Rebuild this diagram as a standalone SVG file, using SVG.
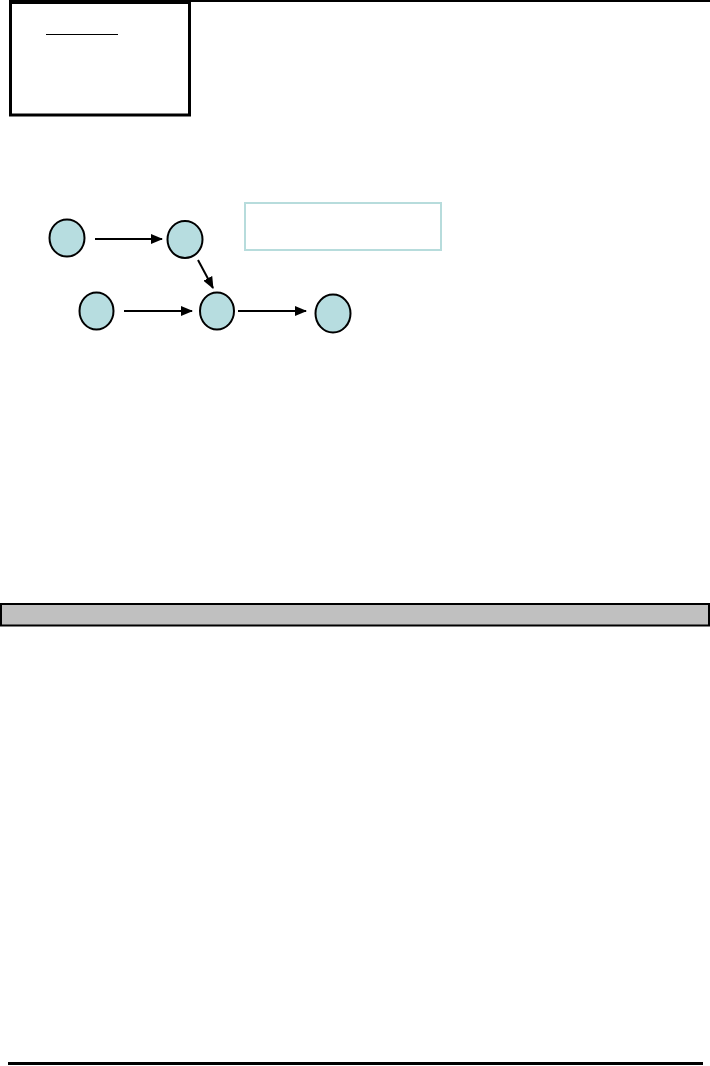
<svg xmlns="http://www.w3.org/2000/svg" width="710" height="1066" viewBox="0 0 710 1066">
<style>
.node{fill:#b7dde0;stroke:#000;stroke-width:2}
.conn{stroke:#000;stroke-width:2;fill:none}
</style>
<defs>
<marker id="ah" markerWidth="12" markerHeight="10" refX="11" refY="5" orient="auto" markerUnits="userSpaceOnUse">
<path d="M0,0 L12,5 L0,10 Z" fill="#000"/>
</marker>
</defs>
<rect width="710" height="1066" fill="#fff"/>
<g id="frame">
<line x1="9" y1="1" x2="710" y2="1" stroke="#000" stroke-width="2"/>
<rect x="10.5" y="2.5" width="179" height="112.5" fill="none" stroke="#000" stroke-width="3"/>
<line x1="46" y1="34.5" x2="118" y2="34.5" stroke="#000" stroke-width="1"/>
</g>
<g id="label-box">
<rect x="245" y="203" width="196" height="47" fill="#fff" stroke="#b7dcdc" stroke-width="2"/>
</g>
<g id="connectors">
<line class="conn" x1="95" y1="239" x2="162" y2="239" marker-end="url(#ah)"/>
<line class="conn" x1="198" y1="260" x2="213" y2="288" marker-end="url(#ah)"/>
<line class="conn" x1="124" y1="311" x2="192" y2="311" marker-end="url(#ah)"/>
<line class="conn" x1="238" y1="311" x2="306" y2="311" stroke-width="3" marker-end="url(#ah)"/>
</g>
<g id="n1"><ellipse class="node" cx="67" cy="238" rx="17.5" ry="18.5"/></g>
<g id="n2"><ellipse class="node" cx="185" cy="239.5" rx="17.5" ry="18.5"/></g>
<g id="n3"><ellipse class="node" cx="96.5" cy="311" rx="17" ry="18.5"/></g>
<g id="n4"><ellipse class="node" cx="217" cy="311" rx="17" ry="18.5"/></g>
<g id="n5"><ellipse class="node" cx="333" cy="313.5" rx="17.5" ry="19"/></g>
<g id="bar">
<rect x="1" y="604" width="708" height="21.5" fill="#c0c0c0" stroke="#000" stroke-width="2"/>
</g>
<g id="footer">
<line x1="8" y1="1063.5" x2="703" y2="1063.5" stroke="#000" stroke-width="3"/>
</g>
</svg>
